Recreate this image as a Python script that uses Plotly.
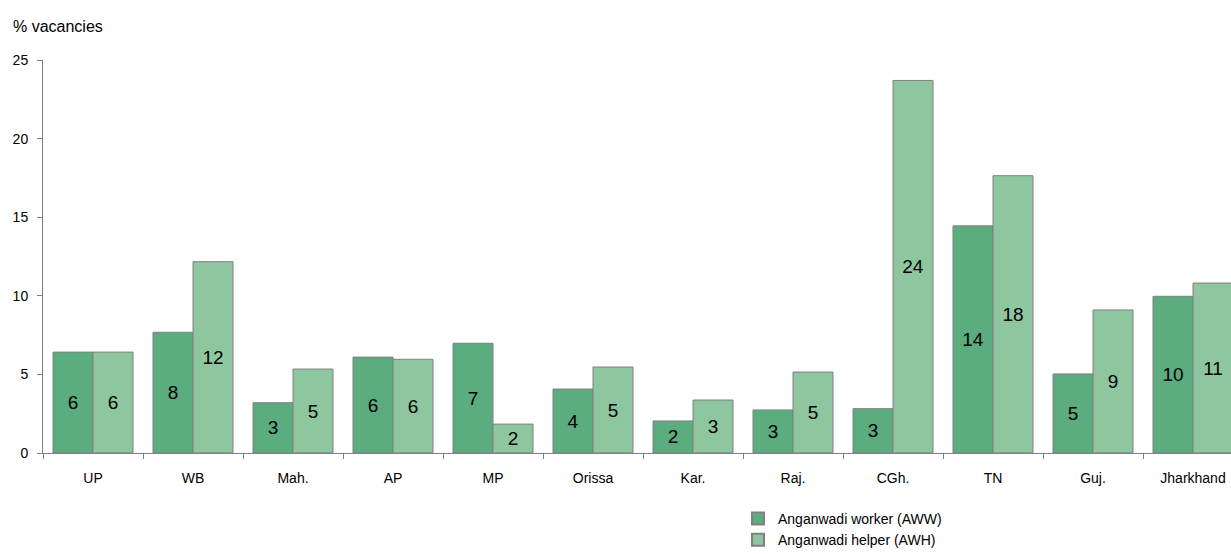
import plotly.graph_objects as go

states = ["UP", "WB", "Mah.", "AP", "MP", "Orissa", "Kar.", "Raj.", "CGh.", "TN", "Guj.", "Jharkhand"]
aww = [6.42, 7.68, 3.2, 6.1, 6.98, 4.07, 2.04, 2.74, 2.82, 14.45, 5.03, 9.97]
awh = [6.42, 12.17, 5.34, 5.96, 1.84, 5.47, 3.37, 5.15, 23.7, 17.64, 9.1, 10.81]

FONT = "Arial, Liberation Sans, sans-serif"
line = dict(color="#808080", width=1)

fig = go.Figure()
for name, vals, col in [("Anganwadi worker (AWW)", aww, "#5BAD80"),
                        ("Anganwadi helper (AWH)", awh, "#8EC6A0")]:
    fig.add_trace(go.Bar(
        x=states, y=vals, name=name,
        marker=dict(color=col, line=line),
        texttemplate="%{y:.0f}", textposition="inside", insidetextanchor="middle",
        textfont=dict(color="black", size=19, family=FONT), textangle=0,
    ))

fig.update_layout(
    width=1231, height=554,
    margin=dict(l=43, r=0, t=60, b=101, autoexpand=False),
    paper_bgcolor="white", plot_bgcolor="white",
    barmode="group", bargap=0.2, bargroupgap=0,
    font=dict(family=FONT, size=14, color="black"),
    uniformtext=dict(mode=False),
    showlegend=True,
    legend=dict(
        x=0.585, y=1 - 503 / 554, xref="paper", yref="container",
        xanchor="left", yanchor="top",
        orientation="v", font=dict(size=14), traceorder="normal",
        itemsizing="constant", tracegroupgap=0, bgcolor="rgba(0,0,0,0)",
    ),
    xaxis=dict(
        range=[-0.5, 11.38], showline=True, linecolor="#808080", linewidth=1,
        ticks="outside", tickson="boundaries", ticklen=5, tickcolor="#808080",
        showgrid=False, tickfont=dict(size=14), ticklabelstandoff=12,
    ),
    yaxis=dict(
        range=[0, 25], tickvals=[0, 5, 10, 15, 20, 25], showline=True,
        linecolor="#808080", linewidth=1, ticks="outside", ticklen=5,
        tickcolor="#808080", showgrid=False, zeroline=False,
        tickfont=dict(size=14), ticklabelstandoff=6,
    ),
    annotations=[dict(
        text="% vacancies", x=(11 - 43) / 1188, y=1 + 34 / 393,
        xref="paper", yref="paper",
        showarrow=False, xanchor="left", yanchor="middle", font=dict(size=16),
    )],
)
fig.write_html("out.html")
